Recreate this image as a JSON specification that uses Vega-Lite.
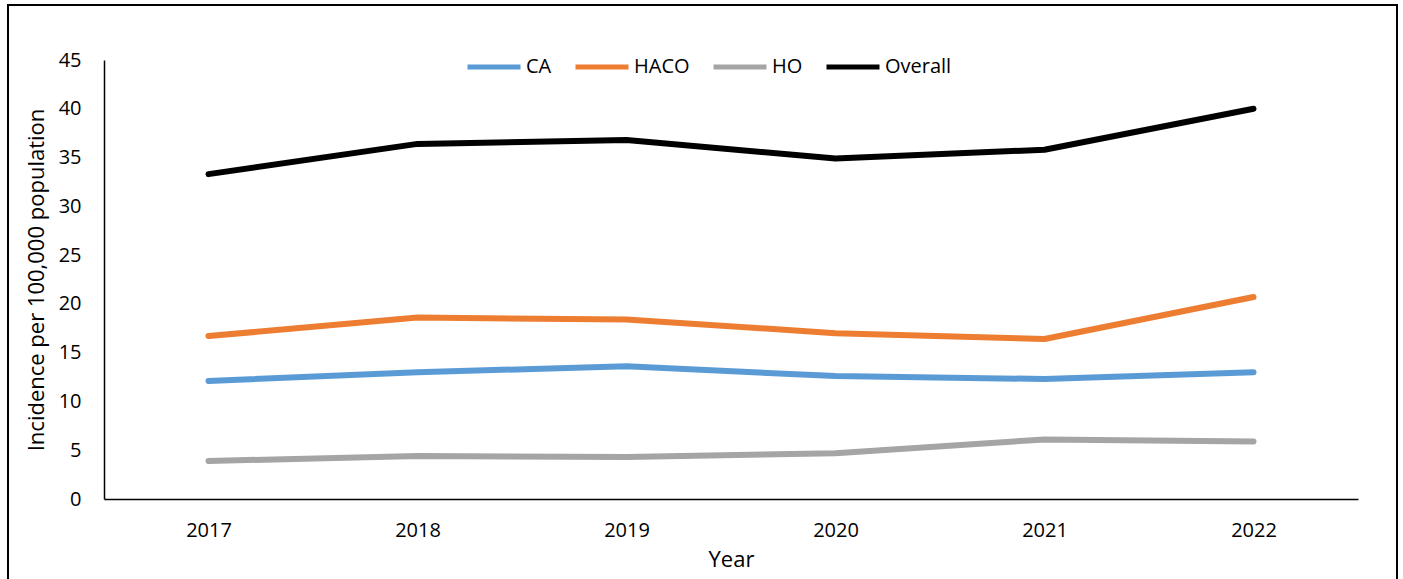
{
  "$schema": "https://vega.github.io/schema/vega-lite/v6.json",
  "autosize": "none",
  "padding": {"left": 104, "top": 60, "right": 45, "bottom": 80},
  "width": 1254,
  "height": 439,
  "background": "white",
  "config": {
    "font": "Open Sans",
    "view": {"stroke": null},
    "axis": {"labelFont": "Open Sans", "titleFont": "Open Sans", "labelColor": "black", "titleColor": "black", "titleFontWeight": "normal", "domainColor": "black", "domainWidth": 1.5, "ticks": false, "grid": false, "labelFontSize": 20, "titleFontSize": 22}
  },
  "data": {
    "values": [
      {"year": "2017", "series": "CA", "value": 12.1},
      {"year": "2018", "series": "CA", "value": 13.0},
      {"year": "2019", "series": "CA", "value": 13.6},
      {"year": "2020", "series": "CA", "value": 12.6},
      {"year": "2021", "series": "CA", "value": 12.3},
      {"year": "2022", "series": "CA", "value": 13.0},
      {"year": "2017", "series": "HACO", "value": 16.7},
      {"year": "2018", "series": "HACO", "value": 18.6},
      {"year": "2019", "series": "HACO", "value": 18.4},
      {"year": "2020", "series": "HACO", "value": 17.0},
      {"year": "2021", "series": "HACO", "value": 16.4},
      {"year": "2022", "series": "HACO", "value": 20.7},
      {"year": "2017", "series": "HO", "value": 3.9},
      {"year": "2018", "series": "HO", "value": 4.4},
      {"year": "2019", "series": "HO", "value": 4.3},
      {"year": "2020", "series": "HO", "value": 4.7},
      {"year": "2021", "series": "HO", "value": 6.1},
      {"year": "2022", "series": "HO", "value": 5.9},
      {"year": "2017", "series": "Overall", "value": 33.3},
      {"year": "2018", "series": "Overall", "value": 36.4},
      {"year": "2019", "series": "Overall", "value": 36.8},
      {"year": "2020", "series": "Overall", "value": 34.9},
      {"year": "2021", "series": "Overall", "value": 35.8},
      {"year": "2022", "series": "Overall", "value": 40.0}
    ]
  },
  "layer": [
    {
      "mark": {"type": "rect", "fill": null, "stroke": "black", "strokeWidth": 2, "clip": false},
      "encoding": {
        "x": {"value": -96},
        "x2": {"value": 1293},
        "y": {"value": -55},
        "y2": {"value": 540}
      }
    },
    {
      "mark": {"type": "line", "strokeWidth": 6, "strokeCap": "round", "strokeJoin": "round"},
      "encoding": {
        "x": {
          "field": "year", "type": "ordinal",
          "scale": {"type": "point", "padding": 0.5},
          "axis": {"title": "Year", "labelAngle": 0, "labelPadding": 21, "titlePadding": 9}
        },
        "y": {
          "field": "value", "type": "quantitative",
          "scale": {"domain": [0, 45], "nice": false},
          "axis": {"title": "Incidence per 100,000 population", "values": [0, 5, 10, 15, 20, 25, 30, 35, 40, 45], "labelPadding": 23, "titlePadding": 10}
        },
        "color": {
          "field": "series", "type": "nominal",
          "scale": {"domain": ["CA", "HACO", "HO", "Overall"], "range": ["#5B9BD5", "#ED7D31", "#A5A5A5", "#000000"]},
          "legend": {
            "title": null, "orient": "none", "direction": "horizontal",
            "legendX": 361, "legendY": -22,
            "symbolType": "stroke", "symbolSize": 2809, "symbolStrokeWidth": 5,
            "labelFontSize": 20, "labelFont": "Open Sans", "labelColor": "black",
            "labelOffset": 3, "columnPadding": 13
          }
        }
      }
    }
  ]
}
